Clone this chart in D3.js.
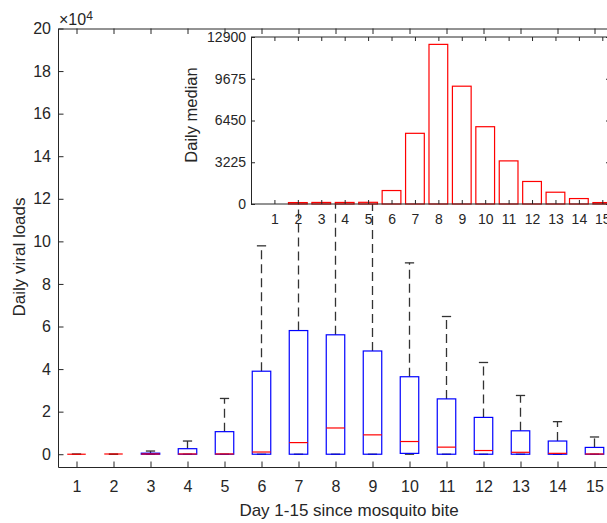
<!DOCTYPE html>
<meta charset="utf-8">
<style>
body { margin: 0; background: #fff; }
text { font-family: "Liberation Sans", Arial, sans-serif; fill: #262626; }
.axis path, .axis line { stroke: #262626; }
</style>
<svg width="607" height="523"></svg>
<script src="https://d3js.org/d3.v7.min.js"></script>
<script>

// days since the bite
var days = [1,2,3,4,5,6,7,8,9,10,11,12,13,14,15];

// box plot stats (raw viral load)
var lowWhisker = [0,0,0,0,0,0,0,0,0,0,0,0,0,0,0];
var q1 =        [0,0,0,0,0,0,0,0,0,400,0,0,0,0,0];
var medians =   [0,110,120,120,130,1040,5460,12330,9100,5970,3330,1740,910,420,110];
var q3 =        [0,0,500,2600,10600,39000,58100,56100,48500,36400,26000,17300,11000,6200,3200];
var highWhisker = [0,0,1500,6200,26200,97900,155000,185000,135000,89900,64700,43100,27600,15300,8100];

// inset bars: daily median
var insetTicks = [0,3225,6450,9675,12900];
var mainTicks = d3.range(0, 200001, 20000);

var svg = d3.select("svg");

// main axes
var x = d3.scaleLinear().domain([0.5, 15.5]).range([58, 613]);
var y = d3.scaleLinear().domain([-6000, 200000]).range([467, 28.5]);
var tk = 5.5;

svg.append("g").attr("class", "axis")
    .attr("transform", "translate(0,467)")
    .call(d3.axisBottom(x).tickValues(days).tickSize(-tk).tickSizeOuter(0).tickPadding(14))
    .call(g => g.selectAll("text").attr("font-size", 16));
svg.append("g").attr("class", "axis")
    .attr("transform", "translate(0,28.5)")
    .call(d3.axisTop(x).tickValues(days).tickSize(-tk).tickSizeOuter(0).tickFormat(""));
svg.append("g").attr("class", "axis")
    .attr("transform", "translate(58,0)")
    .call(d3.axisLeft(y).tickValues(mainTicks).tickSize(-tk).tickSizeOuter(0).tickPadding(7)
      .tickFormat(d => d / 1e4))
    .call(g => g.selectAll("text").attr("font-size", 16));
svg.append("g").attr("class", "axis")
    .attr("transform", "translate(613,0)")
    .call(d3.axisRight(y).tickValues(mainTicks).tickSize(-tk).tickSizeOuter(0).tickFormat(""));

// x10^4 multiplier
var mult = svg.append("text").attr("x", 59).attr("y", 25).attr("font-size", 16);
mult.append("tspan").text("\u00d710");
mult.append("tspan").attr("dy", -5).attr("font-size", 12).text("4");

svg.append("text")
    .attr("x", 349).attr("y", 516)
    .attr("text-anchor", "middle").attr("font-size", 17)
    .text("Day 1-15 since mosquito bite");
svg.append("text")
    .attr("transform", "translate(25,257) rotate(-90)")
    .attr("text-anchor", "middle").attr("font-size", 17)
    .text("Daily viral loads");

// boxes
var bw = 0.5, cw = 0.25;
var boxes = svg.append("g").selectAll("g").data(days).join("g");

boxes.append("line") // upper whisker
    .attr("x1", d => x(d)).attr("x2", d => x(d))
    .attr("y1", (d, i) => y(q3[i])).attr("y2", (d, i) => y(highWhisker[i]))
    .attr("stroke", "#333").attr("stroke-width", 1.3).attr("stroke-dasharray", "9,5");
boxes.append("line") // lower whisker
    .attr("x1", d => x(d)).attr("x2", d => x(d))
    .attr("y1", (d, i) => y(q1[i])).attr("y2", (d, i) => y(lowWhisker[i]))
    .attr("stroke", "#333").attr("stroke-width", 1.3).attr("stroke-dasharray", "9,5");
boxes.append("line") // top cap
    .attr("x1", d => x(d - cw / 2)).attr("x2", d => x(d + cw / 2))
    .attr("y1", (d, i) => y(highWhisker[i])).attr("y2", (d, i) => y(highWhisker[i]))
    .attr("stroke", "#333").attr("stroke-width", 1.3);
boxes.append("line") // bottom cap
    .attr("x1", d => x(d - cw / 2)).attr("x2", d => x(d + cw / 2))
    .attr("y1", (d, i) => y(lowWhisker[i])).attr("y2", (d, i) => y(lowWhisker[i]))
    .attr("stroke", "#333").attr("stroke-width", 1.3);
boxes.append("rect")
    .attr("x", d => x(d - bw / 2))
    .attr("width", x(bw) - x(0))
    .attr("y", (d, i) => y(q3[i]))
    .attr("height", (d, i) => y(q1[i]) - y(q3[i]))
    .attr("fill", "none").attr("stroke", "#0000ff").attr("stroke-width", 1.2);
boxes.append("line") // median
    .attr("x1", d => x(d - bw / 2)).attr("x2", d => x(d + bw / 2))
    .attr("y1", (d, i) => y(medians[i])).attr("y2", (d, i) => y(medians[i]))
    .attr("stroke", "#ff0000").attr("stroke-width", 1.2);

// inset
var ix = d3.scaleLinear().domain([0, 16]).range([251, 251 + 16 * 23.42]);
var iy = d3.scaleLinear().domain([0, 12900]).range([204, 37]);
var iRight = 610, itk = 4;

svg.append("rect")
    .attr("x", 251).attr("y", 37).attr("width", iRight - 251).attr("height", 167)
    .attr("fill", "#fff");

svg.append("g").selectAll("rect").data(days).join("rect")
    .attr("x", d => ix(d - 0.4))
    .attr("width", ix(0.8) - ix(0))
    .attr("y", (d, i) => iy(medians[i]))
    .attr("height", (d, i) => iy(0) - iy(medians[i]))
    .attr("fill", "none").attr("stroke", "#ff0000").attr("stroke-width", 1.2);

svg.append("g").attr("class", "axis")
    .attr("transform", "translate(0,204)")
    .call(d3.axisBottom(ix).tickValues(days).tickSize(-itk).tickSizeOuter(0).tickPadding(10))
    .call(g => g.select(".domain").attr("d", "M251,0H" + iRight))
    .call(g => g.selectAll("text").attr("font-size", 14));
svg.append("g").attr("class", "axis")
    .attr("transform", "translate(0,37)")
    .call(d3.axisTop(ix).tickValues(days).tickSize(-itk).tickSizeOuter(0).tickFormat(""))
    .call(g => g.select(".domain").attr("d", "M251,0H" + iRight));
svg.append("g").attr("class", "axis")
    .attr("transform", "translate(251,0)")
    .call(d3.axisLeft(iy).tickValues(insetTicks).tickSize(-itk).tickSizeOuter(0).tickPadding(5)
      .tickFormat(d3.format("d")))
    .call(g => g.selectAll("text").attr("font-size", 14));
svg.append("g").attr("class", "axis")
    .attr("transform", "translate(" + iRight + ",0)")
    .call(d3.axisRight(iy).tickValues(insetTicks).tickSize(-itk).tickSizeOuter(0).tickFormat(""));

svg.append("text")
    .attr("transform", "translate(197,115) rotate(-90)")
    .attr("text-anchor", "middle").attr("font-size", 16.5)
    .text("Daily median");

</script>
